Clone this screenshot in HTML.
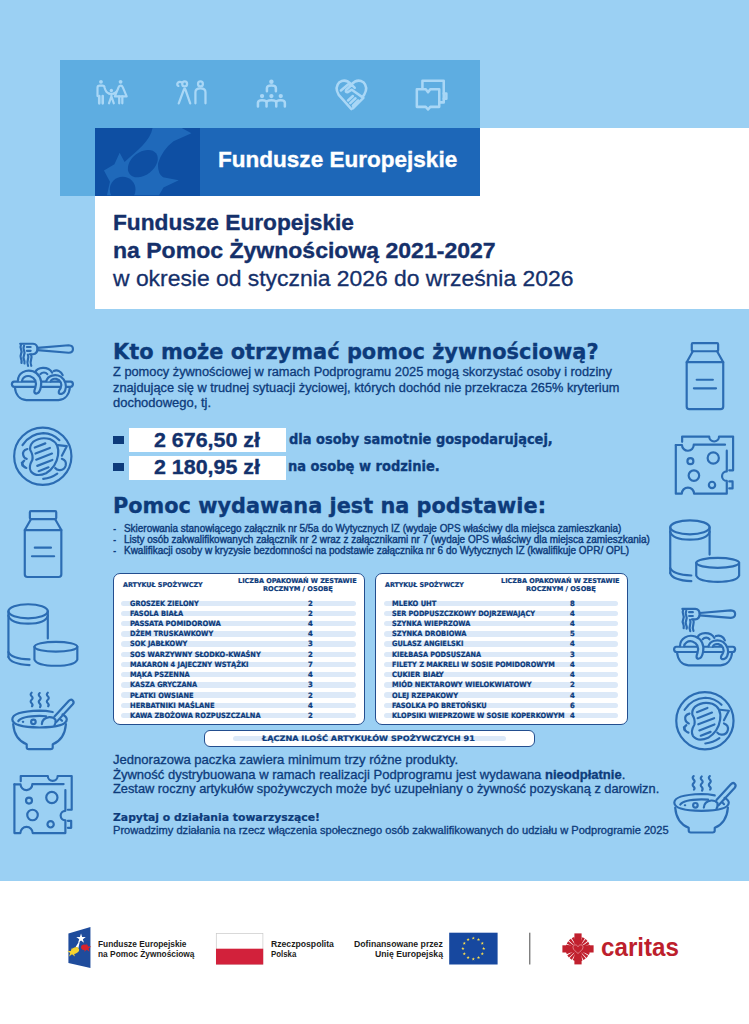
<!DOCTYPE html>
<html lang="pl">
<head>
<meta charset="utf-8">
<title>Fundusze Europejskie na Pomoc Żywnościową 2021-2027</title>
<style>
html,body{margin:0;padding:0;background:#fff;}
body{width:749px;height:1024px;overflow:hidden;position:relative;font-family:"Liberation Sans",sans-serif;}
#page{position:absolute;left:0;top:0;width:749px;height:1024px;overflow:hidden;background:#fff;}
.abs{position:absolute;}
#sky{left:0;top:0;width:749px;height:881px;background:#9bd0f3;}
#lightbox{left:59.5px;top:59.5px;width:420.5px;height:136.5px;background:#5eade1;}
#whitebox{left:95px;top:128px;width:654px;height:180.8px;background:#fff;}
#banner{left:95px;top:128px;width:385px;height:68.2px;background:#1d67b8;}
#bannerdark{left:0;top:0;width:104.5px;height:68px;background:#0e4fa3;overflow:hidden;}
.t{position:absolute;white-space:pre;line-height:1em;transform-origin:0 0;margin:0;}
.t b{font-weight:700;}
.hv{-webkit-text-stroke:0.35px currentColor;}
.md{-webkit-text-stroke:0.3px currentColor;}
.tb{-webkit-text-stroke:0.22px currentColor;}
.md2{-webkit-text-stroke:0.4px currentColor;}
.amt{background:#fff;left:128.6px;width:157.1px;height:24px;}
.bul{background:#0d3b7b;left:112.6px;width:11.4px;height:7.6px;}
.tbl{border:1.15px solid #234e8f;border-radius:7px;background:#fff;box-sizing:border-box;}
.row{position:absolute;height:5.4px;border-radius:3px;background:#dce9f8;}
svg{position:absolute;overflow:visible;}
</style>
</head>
<body>
<div id="page">
<div id="sky" class="abs"></div>
<div id="lightbox" class="abs"></div>
<div id="whitebox" class="abs"></div>
<div id="banner" class="abs"><div id="bannerdark" class="abs"></div></div>
<div class="abs bul" style="top:436.4px"></div>
<div class="abs bul" style="top:463.2px"></div>
<div class="abs amt" style="top:427.6px"></div>
<div class="abs amt" style="top:456px"></div>
<div class="abs tbl" style="left:113px;top:572.6px;width:252.2px;height:152.5px"></div>
<div class="abs tbl" style="left:375px;top:572.6px;width:252.8px;height:152.5px"></div>
<div class="abs tbl" style="left:204.2px;top:730px;width:331px;height:17.2px;border-radius:6px"></div>
<div class="row" style="left:233px;top:736.2px;width:273px;height:5px"></div>
<div id="rows"><div class="row" style="left:121px;top:600.50px;width:235.2px"></div>
<div class="row" style="left:383.6px;top:600.50px;width:234.6px"></div>
<div class="row" style="left:121px;top:610.72px;width:235.2px"></div>
<div class="row" style="left:383.6px;top:610.72px;width:234.6px"></div>
<div class="row" style="left:121px;top:620.93px;width:235.2px"></div>
<div class="row" style="left:383.6px;top:620.93px;width:234.6px"></div>
<div class="row" style="left:121px;top:631.14px;width:235.2px"></div>
<div class="row" style="left:383.6px;top:631.14px;width:234.6px"></div>
<div class="row" style="left:121px;top:641.36px;width:235.2px"></div>
<div class="row" style="left:383.6px;top:641.36px;width:234.6px"></div>
<div class="row" style="left:121px;top:651.58px;width:235.2px"></div>
<div class="row" style="left:383.6px;top:651.58px;width:234.6px"></div>
<div class="row" style="left:121px;top:661.79px;width:235.2px"></div>
<div class="row" style="left:383.6px;top:661.79px;width:234.6px"></div>
<div class="row" style="left:121px;top:672.00px;width:235.2px"></div>
<div class="row" style="left:383.6px;top:672.00px;width:234.6px"></div>
<div class="row" style="left:121px;top:682.22px;width:235.2px"></div>
<div class="row" style="left:383.6px;top:682.22px;width:234.6px"></div>
<div class="row" style="left:121px;top:692.43px;width:235.2px"></div>
<div class="row" style="left:383.6px;top:692.43px;width:234.6px"></div>
<div class="row" style="left:121px;top:702.65px;width:235.2px"></div>
<div class="row" style="left:383.6px;top:702.65px;width:234.6px"></div>
<div class="row" style="left:121px;top:712.87px;width:235.2px"></div>
<div class="row" style="left:383.6px;top:712.87px;width:234.6px"></div></div>
<svg class="abs" style="left:0;top:0" width="749" height="1024" viewBox="0 0 749 1024">
<g transform="translate(0.00,320.00) scale(0.17575)" fill="none" stroke="#2b6cb3" stroke-width="12.40" stroke-linecap="round" stroke-linejoin="round" ><g transform="translate(28.45,85.35) scale(0.6079)" stroke-width="20.4">
<path d="M142,82 H262 Q302,84 304,130 Q302,176 262,180 H232"/>
<path d="M205,112 H240 M205,148 H240"/>
<path d="M304,120 L596,96 Q636,98 636,130 Q636,164 596,166 L304,142"/>
<path d="M150,90 q-10,22 0,44 q10,22 0,44 q-10,22 0,44 q8,20 4,40"/>
<path d="M178,100 q-10,22 0,44 q10,22 0,44 q-10,22 0,44 q8,16 4,34"/>
<path d="M214,184 q10,24 0,48 q-10,24 2,58"/>
<path d="M244,184 q10,24 0,48 q-10,24 2,56"/>
<path d="M86,436 H614 Q636,438 636,460 Q634,484 612,485 H88 Q66,484 64,460 Q66,438 86,436 Z"/>
<path d="M92,487 C98,560 140,606 200,610 H500 C560,606 602,560 608,487"/>
<path d="M282,352 C302,298 402,290 442,352"/>
<path d="M332,366 C350,346 380,346 396,366"/>
<path d="M456,336 C492,322 526,342 540,376"/>
<path d="M120,432 C120,352 200,318 262,340 C322,362 348,420 336,482 C330,522 312,546 292,548 C268,546 272,522 284,492 C298,442 280,402 236,386 C192,376 160,402 158,432" fill="#9bd0f3"/>
<path d="M386,432 C400,380 470,360 522,390 C566,420 582,480 562,522 C552,546 526,556 510,550 C496,540 504,520 520,500 C540,460 520,422 480,411 C450,406 432,420 426,436" fill="#9bd0f3"/>
</g>
</g>
<g transform="translate(662.20,585.20) scale(0.17575)" fill="none" stroke="#2b6cb3" stroke-width="12.40" stroke-linecap="round" stroke-linejoin="round" ><g transform="translate(28.45,85.35) scale(0.6079)" stroke-width="20.4">
<path d="M142,82 H262 Q302,84 304,130 Q302,176 262,180 H232"/>
<path d="M205,112 H240 M205,148 H240"/>
<path d="M304,120 L596,96 Q636,98 636,130 Q636,164 596,166 L304,142"/>
<path d="M150,90 q-10,22 0,44 q10,22 0,44 q-10,22 0,44 q8,20 4,40"/>
<path d="M178,100 q-10,22 0,44 q10,22 0,44 q-10,22 0,44 q8,16 4,34"/>
<path d="M214,184 q10,24 0,48 q-10,24 2,58"/>
<path d="M244,184 q10,24 0,48 q-10,24 2,56"/>
<path d="M86,436 H614 Q636,438 636,460 Q634,484 612,485 H88 Q66,484 64,460 Q66,438 86,436 Z"/>
<path d="M92,487 C98,560 140,606 200,610 H500 C560,606 602,560 608,487"/>
<path d="M282,352 C302,298 402,290 442,352"/>
<path d="M332,366 C350,346 380,346 396,366"/>
<path d="M456,336 C492,322 526,342 540,376"/>
<path d="M120,432 C120,352 200,318 262,340 C322,362 348,420 336,482 C330,522 312,546 292,548 C268,546 272,522 284,492 C298,442 280,402 236,386 C192,376 160,402 158,432" fill="#9bd0f3"/>
<path d="M386,432 C400,380 470,360 522,390 C566,420 582,480 562,522 C552,546 526,556 510,550 C496,540 504,520 520,500 C540,460 520,422 480,411 C450,406 432,420 426,436" fill="#9bd0f3"/>
</g>
</g>
<g transform="translate(0.00,320.00) scale(0.17575)" fill="none" stroke="#2b6cb3" stroke-width="12.40" stroke-linecap="round" stroke-linejoin="round" >
<circle cx="243.5" cy="775" r="163"/>
<path d="M128,712 Q170,648 246,644 Q300,646 338,684"/>
<path d="M246,904 Q290,900 326,874"/>
<path d="M124,812 Q130,836 150,842"/>
<path d="M188,694 Q230,662 286,678 Q340,700 330,770 Q320,836 262,872 Q205,896 176,862 Q160,836 184,796 Q190,770 172,740 Q168,712 188,694 Z"/>
<path d="M198,726 L258,702 M202,760 L284,728 M206,795 L296,760 M212,830 L298,796 M220,860 L276,838"/>
<path d="M156,734 Q126,742 132,768 Q136,786 152,790"/>
<path d="M138,800 Q122,812 128,828"/>
<path d="M330,712 L380,718 L352,772"/>
<path d="M352,790 Q380,800 374,828 Q366,856 338,854 Q322,852 314,842"/>
</g>
<g transform="translate(662.10,584.60) scale(0.17575)" fill="none" stroke="#2b6cb3" stroke-width="12.40" stroke-linecap="round" stroke-linejoin="round" >
<circle cx="243.5" cy="775" r="163"/>
<path d="M128,712 Q170,648 246,644 Q300,646 338,684"/>
<path d="M246,904 Q290,900 326,874"/>
<path d="M124,812 Q130,836 150,842"/>
<path d="M188,694 Q230,662 286,678 Q340,700 330,770 Q320,836 262,872 Q205,896 176,862 Q160,836 184,796 Q190,770 172,740 Q168,712 188,694 Z"/>
<path d="M198,726 L258,702 M202,760 L284,728 M206,795 L296,760 M212,830 L298,796 M220,860 L276,838"/>
<path d="M156,734 Q126,742 132,768 Q136,786 152,790"/>
<path d="M138,800 Q122,812 128,828"/>
<path d="M330,712 L380,718 L352,772"/>
<path d="M352,790 Q380,800 374,828 Q366,856 338,854 Q322,852 314,842"/>
</g>
<g transform="translate(0.00,490.00) scale(0.17575)" fill="none" stroke="#2b6cb3" stroke-width="12.40" stroke-linecap="round" stroke-linejoin="round" >
<path d="M176,120 H314 Q320,120 320,126 V160 Q320,166 314,166 H176 Q170,166 170,160 V126 Q170,120 176,120 Z"/>
<path d="M176,166 L141,228 M314,166 L349,228"/>
<path d="M141,228 H349 V480 Q349,495 334,495 H156 Q141,495 141,480 Z"/>
<path d="M198,328 H290 M182,377 H308"/>
</g>
<g transform="translate(661.90,322.10) scale(0.17575)" fill="none" stroke="#2b6cb3" stroke-width="12.40" stroke-linecap="round" stroke-linejoin="round" >
<path d="M176,120 H314 Q320,120 320,126 V160 Q320,166 314,166 H176 Q170,166 170,160 V126 Q170,120 176,120 Z"/>
<path d="M176,166 L141,228 M314,166 L349,228"/>
<path d="M141,228 H349 V480 Q349,495 334,495 H156 Q141,495 141,480 Z"/>
<path d="M198,328 H290 M182,377 H308"/>
</g>
<g transform="translate(0.00,490.00) scale(0.17575)" fill="none" stroke="#2b6cb3" stroke-width="12.40" stroke-linecap="round" stroke-linejoin="round" >
<ellipse cx="160" cy="690" rx="112" ry="40"/>
<path d="M48,715 Q60,760 160,760 Q260,760 272,715"/>
<path d="M48,690 V950 M272,690 V845"/>
<path d="M48,950 Q60,990 168,996"/>
<path d="M48,922 Q62,958 168,964"/>
<ellipse cx="318" cy="892" rx="122" ry="28"/>
<path d="M196,892 V965 Q210,1000 318,1000 Q426,1000 440,965 V892"/>
</g>
<g transform="translate(661.80,406.10) scale(0.17575)" fill="none" stroke="#2b6cb3" stroke-width="12.40" stroke-linecap="round" stroke-linejoin="round" >
<ellipse cx="160" cy="690" rx="112" ry="40"/>
<path d="M48,715 Q60,760 160,760 Q260,760 272,715"/>
<path d="M48,690 V950 M272,690 V845"/>
<path d="M48,950 Q60,990 168,996"/>
<path d="M48,922 Q62,958 168,964"/>
<ellipse cx="318" cy="892" rx="122" ry="28"/>
<path d="M196,892 V965 Q210,1000 318,1000 Q426,1000 440,965 V892"/>
</g>
<g transform="translate(0.00,660.00) scale(0.17575)" fill="none" stroke="#2b6cb3" stroke-width="12.40" stroke-linecap="round" stroke-linejoin="round" >
<path d="M180,186 q-11,10 0,20 q11,10 0,20 q-11,10 0,20 q9,9 2,17"/>
<path d="M226,188 q-11,10 0,20 q11,10 0,20 q-11,10 0,20 q9,10 2,20"/>
<path d="M272,186 q-11,10 0,20 q11,10 0,20 q-11,10 0,20 q9,9 2,17"/>
<path d="M300,296 Q260,288 225,288 Q70,292 70,338 Q72,382 225,384 Q378,382 380,338 Q380,322 356,310"/>
<path d="M104,348 Q120,320 225,318 Q245,318 262,320"/>
<path d="M75,365 Q82,452 152,480 V496 Q152,507 164,507 H288 Q300,507 300,496 V480 Q368,452 375,365"/>
<path d="M310,322 L392,232 Q404,220 414,230 Q424,240 414,252 L322,352"/>
<path d="M238,365 Q240,330 280,325 Q305,324 316,340 Q318,360 310,372"/>
<circle cx="190" cy="352" r="13"/>
<path d="M130,352 h2 M345,338 l8,8"/>
</g>
<g transform="translate(662.00,743.40) scale(0.17575)" fill="none" stroke="#2b6cb3" stroke-width="12.40" stroke-linecap="round" stroke-linejoin="round" >
<path d="M180,186 q-11,10 0,20 q11,10 0,20 q-11,10 0,20 q9,9 2,17"/>
<path d="M226,188 q-11,10 0,20 q11,10 0,20 q-11,10 0,20 q9,10 2,20"/>
<path d="M272,186 q-11,10 0,20 q11,10 0,20 q-11,10 0,20 q9,9 2,17"/>
<path d="M300,296 Q260,288 225,288 Q70,292 70,338 Q72,382 225,384 Q378,382 380,338 Q380,322 356,310"/>
<path d="M104,348 Q120,320 225,318 Q245,318 262,320"/>
<path d="M75,365 Q82,452 152,480 V496 Q152,507 164,507 H288 Q300,507 300,496 V480 Q368,452 375,365"/>
<path d="M310,322 L392,232 Q404,220 414,230 Q424,240 414,252 L322,352"/>
<path d="M238,365 Q240,330 280,325 Q305,324 316,340 Q318,360 310,372"/>
<circle cx="190" cy="352" r="13"/>
<path d="M130,352 h2 M345,338 l8,8"/>
</g>
<g transform="translate(0.00,660.00) scale(0.17575)" fill="none" stroke="#2b6cb3" stroke-width="12.40" stroke-linecap="round" stroke-linejoin="round" >
<path d="M82,708 H117 A33,33 0 0 0 184,706 H362"/>
<path d="M82,708 V985 H116 A35,35 0 0 1 186,985 H372 V912 A27,27 0 0 1 372,858 V740"/>
<path d="M118,690 V660 H272 A28,28 0 0 0 328,660 H408 V852 H386"/>
<path d="M386,915 H405 V955 H386"/>
<circle cx="295" cy="782" r="32"/>
<circle cx="165" cy="800" r="17"/>
<circle cx="185" cy="882" r="30"/>
<circle cx="288" cy="935" r="18"/>
</g>
<g transform="translate(661.40,320.60) scale(0.17575)" fill="none" stroke="#2b6cb3" stroke-width="12.40" stroke-linecap="round" stroke-linejoin="round" >
<path d="M82,708 H117 A33,33 0 0 0 184,706 H362"/>
<path d="M82,708 V985 H116 A35,35 0 0 1 186,985 H372 V912 A27,27 0 0 1 372,858 V740"/>
<path d="M118,690 V660 H272 A28,28 0 0 0 328,660 H408 V852 H386"/>
<path d="M386,915 H405 V955 H386"/>
<circle cx="295" cy="782" r="32"/>
<circle cx="165" cy="800" r="17"/>
<circle cx="185" cy="882" r="30"/>
<circle cx="288" cy="935" r="18"/>
</g>
<g transform="translate(85.00,70.00) scale(0.17361)" fill="none" stroke="#a9d7f6" stroke-width="12.50" stroke-linecap="round" stroke-linejoin="round" >
<circle cx="92" cy="68" r="11" fill="#a9d7f6" stroke="none"/>
<path d="M72,150 V102 Q72,90 84,90 H100 Q112,90 113,102 Q120,130 140,136"/>
<path d="M82,192 V150 M102,192 V150" stroke-width="15"/>
<circle cx="152" cy="118" r="9.5" fill="#a9d7f6" stroke="none"/>
<path d="M140,137 H164 M152,137 V152 L138,192 M152,152 L166,192"/>
<circle cx="205" cy="68" r="11" fill="#a9d7f6" stroke="none"/>
<path d="M164,136 Q186,130 193,100 Q196,90 205,90 Q214,90 218,100 L240,152 H172 L193,100"/>
<path d="M197,192 V152 M215,192 V152" stroke-width="13"/>
</g>
<g transform="translate(85.00,70.00) scale(0.17361)" fill="none" stroke="#a9d7f6" stroke-width="13.00" stroke-linecap="round" stroke-linejoin="round" >
<circle cx="574" cy="80" r="14"/>
<path d="M560,72 Q540,62 532,78 Q530,90 538,92"/>
<path d="M540,192 L570,112 Q574,104 578,112 L606,192"/>
<circle cx="665" cy="80" r="14"/>
<path d="M636,192 V128 Q636,106 665,106 Q694,106 694,128 V192"/>
</g>
<g transform="translate(160.00,65.00) scale(0.18692)" fill="none" stroke="#a9d7f6" stroke-width="13.50" stroke-linecap="round" stroke-linejoin="round" >
<circle cx="596" cy="90" r="12" fill="#a9d7f6" stroke="none"/>
<path d="M572,140 V124 Q572,110 596,110 Q620,110 620,124 V140"/>
<circle cx="546" cy="166" r="11.5" fill="#a9d7f6" stroke="none"/>
<circle cx="596" cy="166" r="11.5" fill="#a9d7f6" stroke="none"/>
<circle cx="646" cy="166" r="11.5" fill="#a9d7f6" stroke="none"/>
<path d="M524,222 V202 Q524,188 546,188 Q570,188 570,202 V222 M570,202 Q570,188 596,188 Q622,188 622,202 V222 M622,202 Q622,188 646,188 Q668,188 668,202 V222"/>
</g>
<g transform="translate(320.00,65.00) scale(0.18692)" fill="none" stroke="#a9d7f6" stroke-width="13.50" stroke-linecap="round" stroke-linejoin="round" >
<path d="M168,236 L100,160 Q76,120 104,92 Q136,70 168,104 Q200,70 232,92 Q260,120 236,160 L228,170"/>
<path d="M112,136 L150,104 Q160,98 170,106 L186,122 M170,106 L140,134 Q134,146 148,146 L170,132 L232,176 L176,232"/>
<path d="M150,190 L176,166 M162,204 L190,178 M176,218 L204,190"/>
</g>
<g transform="translate(320.00,65.00) scale(0.18692)" fill="none" stroke="#a9d7f6" stroke-width="13.50" stroke-linecap="round" stroke-linejoin="round" >
<path d="M548,124 V84 H662 V200 H642"/>
<path d="M662,152 H676 V180 H662"/>
<path d="M518,130 H566 L578,146 L590,130 H638 V224 H590 L578,238 L566,224 H518 Z"/>
</g>
<defs><clipPath id="bclip"><rect x="95" y="128" width="104.5" height="68"/></clipPath></defs>
<g clip-path="url(#bclip)"><g transform="translate(92,125) scale(0.14953)">
<path d="M80,305 L150,262 L185,185 L218,248 C300,170 390,110 405,20 L600,20 L665,55 L545,108 Q470,165 442,255 Q436,320 475,350 L580,370 L478,418 L448,470 L100,470 L120,380 Z" fill="#1f69ba"/>
<ellipse cx="340" cy="258" rx="112" ry="76" transform="rotate(-38 340 258)" fill="#0e4fa3"/>
<circle cx="205" cy="432" r="86" fill="#0e4fa3"/>
</g></g>
<g transform="translate(60,920) scale(0.20028)">
<path d="M42,68 L152,35 L152,240 L42,215 Z" fill="#1f4c9c"/>
<polygon points="105.00,68.00 110.61,85.27 128.78,85.27 114.08,95.95 119.69,113.23 105.00,102.55 90.31,113.23 95.92,95.95 81.22,85.27 99.39,85.27" fill="#ffffff"/>
<path d="M100,100 L78,135 L92,140 Z" fill="#ffffff"/>
<polygon points="60.00,137.00 65.61,154.27 83.78,154.27 69.08,164.95 74.69,182.23 60.00,171.55 45.31,182.23 50.92,164.95 36.22,154.27 54.39,154.27" fill="#f7d32f"/>
<ellipse cx="76" cy="152" rx="20" ry="15" transform="rotate(-30 76 152)" fill="#f7d32f"/>
<polygon points="134.00,117.00 139.16,132.89 155.87,132.89 142.36,142.72 147.52,158.61 134.00,148.79 120.48,158.61 125.64,142.72 112.13,132.89 128.84,132.89" fill="#d8232a"/>
<ellipse cx="122" cy="136" rx="17" ry="14" fill="#d8232a"/>
</g>
<rect x="216.3" y="933.4" width="46.6" height="30.8" fill="#ffffff" stroke="#c9c9c9" stroke-width="0.7"/>
<rect x="216" y="948.7" width="47.2" height="15.8" fill="#d2213b"/>
<rect x="449.2" y="932.7" width="48.4" height="31.8" fill="#17489f"/>
<polygon points="473.30,936.45 473.69,937.66 474.96,937.66 473.94,938.41 474.33,939.62 473.30,938.87 472.27,939.62 472.66,938.41 471.64,937.66 472.91,937.66" fill="#ffe14d"/>
<polygon points="478.50,937.84 478.89,939.05 480.16,939.05 479.14,939.80 479.53,941.01 478.50,940.26 477.47,941.01 477.86,939.80 476.84,939.05 478.11,939.05" fill="#ffe14d"/>
<polygon points="482.31,941.65 482.70,942.86 483.97,942.86 482.94,943.61 483.34,944.82 482.31,944.07 481.28,944.82 481.67,943.61 480.64,942.86 481.91,942.86" fill="#ffe14d"/>
<polygon points="483.70,946.85 484.09,948.06 485.36,948.06 484.34,948.81 484.73,950.02 483.70,949.27 482.67,950.02 483.06,948.81 482.04,948.06 483.31,948.06" fill="#ffe14d"/>
<polygon points="482.31,952.05 482.70,953.26 483.97,953.26 482.94,954.01 483.34,955.22 482.31,954.47 481.28,955.22 481.67,954.01 480.64,953.26 481.91,953.26" fill="#ffe14d"/>
<polygon points="478.50,955.86 478.89,957.07 480.16,957.07 479.14,957.81 479.53,959.02 478.50,958.28 477.47,959.02 477.86,957.81 476.84,957.07 478.11,957.07" fill="#ffe14d"/>
<polygon points="473.30,957.25 473.69,958.46 474.96,958.46 473.94,959.21 474.33,960.42 473.30,959.67 472.27,960.42 472.66,959.21 471.64,958.46 472.91,958.46" fill="#ffe14d"/>
<polygon points="468.10,955.86 468.49,957.07 469.76,957.07 468.74,957.81 469.13,959.02 468.10,958.28 467.07,959.02 467.46,957.81 466.44,957.07 467.71,957.07" fill="#ffe14d"/>
<polygon points="464.29,952.05 464.69,953.26 465.96,953.26 464.93,954.01 465.32,955.22 464.29,954.47 463.26,955.22 463.66,954.01 462.63,953.26 463.90,953.26" fill="#ffe14d"/>
<polygon points="462.90,946.85 463.29,948.06 464.56,948.06 463.54,948.81 463.93,950.02 462.90,949.27 461.87,950.02 462.26,948.81 461.24,948.06 462.51,948.06" fill="#ffe14d"/>
<polygon points="464.29,941.65 464.69,942.86 465.96,942.86 464.93,943.61 465.32,944.82 464.29,944.07 463.26,944.82 463.66,943.61 462.63,942.86 463.90,942.86" fill="#ffe14d"/>
<polygon points="468.10,937.84 468.49,939.05 469.76,939.05 468.74,939.80 469.13,941.01 468.10,940.26 467.07,941.01 467.46,939.80 466.44,939.05 467.71,939.05" fill="#ffe14d"/>
<rect x="529.3" y="932.7" width="1" height="31.8" fill="#4a4a4a"/>
<circle cx="578.0" cy="948.9" r="8.6" fill="none" stroke="#c1202e" stroke-width="7.6" stroke-dasharray="1.9 0.65"/>
<rect x="574.40" y="933.40" width="7.2" height="31" fill="#c1202e"/>
<rect x="562.40" y="945.30" width="31.2" height="7.2" fill="#c1202e"/>
<path d="M578.00,946.70 c-1.2,-2.6 -5,-2.4 -5,0.6 c0,2.6 3.2,4.4 5,6.2 c1.8,-1.8 5,-3.6 5,-6.2 c0,-3 -3.8,-3.2 -5,-0.6 z" fill="#c1202e" stroke="#e9a9ae" stroke-width="0.7"/>
</svg>
<div class="t hv" style="left:218.20px;top:149.21px;font-size:22.3px;font-weight:700;color:#ffffff;transform:scaleX(1.0107);">Fundusze Europejskie</div>
<div class="t hv" style="left:112.80px;top:212.07px;font-size:22.0px;font-weight:700;color:#15306a;transform:scaleX(1.0321);">Fundusze Europejskie</div>
<div class="t hv" style="left:112.80px;top:240.17px;font-size:22.0px;font-weight:700;color:#15306a;transform:scaleX(1.0465);">na Pomoc Żywnościową 2021-2027</div>
<div class="t md" style="left:112.60px;top:267.74px;font-size:21.8px;font-weight:400;color:#15306a;transform:scaleX(1.0497);">w okresie od stycznia 2026 do września 2026</div>
<div class="t hv" style="left:113.00px;top:340.85px;font-size:21.8px;font-weight:700;color:#0d3b7b;transform:scaleX(0.9602);font-family:'DejaVu Sans', 'Liberation Sans', sans-serif;">Kto może otrzymać pomoc żywnościową?</div>
<div class="t md" style="left:112.60px;top:366.14px;font-size:12.0px;font-weight:400;color:#0d3b7b;transform:scaleX(1.0669);">Z pomocy żywnościowej w ramach Podprogramu 2025 mogą skorzystać osoby i rodziny</div>
<div class="t md" style="left:112.60px;top:381.84px;font-size:12.0px;font-weight:400;color:#0d3b7b;transform:scaleX(1.0634);">znajdujące się w trudnej sytuacji życiowej, których dochód nie przekracza 265% kryterium</div>
<div class="t md" style="left:112.60px;top:397.14px;font-size:12.0px;font-weight:400;color:#0d3b7b;transform:scaleX(1.0801);">dochodowego, tj.</div>
<div class="t hv" style="left:153.80px;top:429.68px;font-size:20.8px;font-weight:700;color:#13316c;transform:scaleX(1.0299);">2 676,50 zł</div>
<div class="t hv" style="left:153.80px;top:457.18px;font-size:20.8px;font-weight:700;color:#13316c;transform:scaleX(1.0299);">2 180,95 zł</div>
<div class="t hv" style="left:288.60px;top:431.75px;font-size:14px;font-weight:700;color:#0d3b7b;transform:scaleX(0.9267);font-family:'DejaVu Sans', 'Liberation Sans', sans-serif;">dla osoby samotnie gospodarującej,</div>
<div class="t hv" style="left:288.40px;top:459.25px;font-size:14px;font-weight:700;color:#0d3b7b;transform:scaleX(0.9305);font-family:'DejaVu Sans', 'Liberation Sans', sans-serif;">na osobę w rodzinie.</div>
<div class="t hv" style="left:112.60px;top:495.15px;font-size:21.8px;font-weight:700;color:#0d3b7b;transform:scaleX(0.9560);font-family:'DejaVu Sans', 'Liberation Sans', sans-serif;">Pomoc wydawana jest na podstawie:</div>
<div class="t " style="left:113.20px;top:523.73px;font-size:10.0px;font-weight:700;color:#0d3b7b;transform:scaleX(0.9869);">-</div>
<div class="t " style="left:113.20px;top:534.93px;font-size:10.0px;font-weight:700;color:#0d3b7b;transform:scaleX(0.9869);">-</div>
<div class="t " style="left:113.20px;top:546.23px;font-size:10.0px;font-weight:700;color:#0d3b7b;transform:scaleX(0.9869);">-</div>
<div class="t md2" style="left:124.00px;top:523.93px;font-size:10.0px;font-weight:400;color:#0d3b7b;transform:scaleX(0.9931);">Skierowania stanowiącego załącznik nr 5/5a do Wytycznych IZ (wydaje OPS właściwy dla miejsca zamieszkania)</div>
<div class="t md2" style="left:124.00px;top:535.13px;font-size:10.0px;font-weight:400;color:#0d3b7b;transform:scaleX(0.9948);">Listy osób zakwalifikowanych załącznik nr 2 wraz z załącznikami nr 7 (wydaje OPS właściwy dla miejsca zamieszkania)</div>
<div class="t md2" style="left:124.00px;top:546.43px;font-size:10.0px;font-weight:400;color:#0d3b7b;transform:scaleX(0.9969);">Kwalifikacji osoby w kryzysie bezdomności na podstawie załącznika nr 6 do Wytycznych IZ (kwalifikuje OPR/ OPL)</div>
<div class="t tb" style="left:129.80px;top:599.62px;font-size:7.3px;font-weight:700;color:#0d3b7b;transform:scaleX(0.9984);font-family:'DejaVu Sans Condensed', 'DejaVu Sans', 'Liberation Sans', sans-serif;">GROSZEK ZIELONY</div>
<div class="t tb" style="left:308.00px;top:599.62px;font-size:7.3px;font-weight:700;color:#0d3b7b;transform:scaleX(1.0485);font-family:'DejaVu Sans Condensed', 'DejaVu Sans', 'Liberation Sans', sans-serif;">2</div>
<div class="t tb" style="left:129.80px;top:609.84px;font-size:7.3px;font-weight:700;color:#0d3b7b;transform:scaleX(1.0151);font-family:'DejaVu Sans Condensed', 'DejaVu Sans', 'Liberation Sans', sans-serif;">FASOLA BIAŁA</div>
<div class="t tb" style="left:308.00px;top:609.84px;font-size:7.3px;font-weight:700;color:#0d3b7b;transform:scaleX(1.0485);font-family:'DejaVu Sans Condensed', 'DejaVu Sans', 'Liberation Sans', sans-serif;">2</div>
<div class="t tb" style="left:129.80px;top:620.05px;font-size:7.3px;font-weight:700;color:#0d3b7b;transform:scaleX(1.0416);font-family:'DejaVu Sans Condensed', 'DejaVu Sans', 'Liberation Sans', sans-serif;">PASSATA POMIDOROWA</div>
<div class="t tb" style="left:308.00px;top:620.05px;font-size:7.3px;font-weight:700;color:#0d3b7b;transform:scaleX(1.0485);font-family:'DejaVu Sans Condensed', 'DejaVu Sans', 'Liberation Sans', sans-serif;">4</div>
<div class="t tb" style="left:129.80px;top:630.27px;font-size:7.3px;font-weight:700;color:#0d3b7b;transform:scaleX(1.0081);font-family:'DejaVu Sans Condensed', 'DejaVu Sans', 'Liberation Sans', sans-serif;">DŻEM TRUSKAWKOWY</div>
<div class="t tb" style="left:308.00px;top:630.27px;font-size:7.3px;font-weight:700;color:#0d3b7b;transform:scaleX(1.0485);font-family:'DejaVu Sans Condensed', 'DejaVu Sans', 'Liberation Sans', sans-serif;">4</div>
<div class="t tb" style="left:129.80px;top:640.48px;font-size:7.3px;font-weight:700;color:#0d3b7b;transform:scaleX(1.0112);font-family:'DejaVu Sans Condensed', 'DejaVu Sans', 'Liberation Sans', sans-serif;">SOK JABŁKOWY</div>
<div class="t tb" style="left:308.00px;top:640.48px;font-size:7.3px;font-weight:700;color:#0d3b7b;transform:scaleX(1.0485);font-family:'DejaVu Sans Condensed', 'DejaVu Sans', 'Liberation Sans', sans-serif;">3</div>
<div class="t tb" style="left:129.80px;top:650.70px;font-size:7.3px;font-weight:700;color:#0d3b7b;transform:scaleX(1.0168);font-family:'DejaVu Sans Condensed', 'DejaVu Sans', 'Liberation Sans', sans-serif;">SOS WARZYWNY SŁODKO-KWAŚNY</div>
<div class="t tb" style="left:308.00px;top:650.70px;font-size:7.3px;font-weight:700;color:#0d3b7b;transform:scaleX(1.0485);font-family:'DejaVu Sans Condensed', 'DejaVu Sans', 'Liberation Sans', sans-serif;">2</div>
<div class="t tb" style="left:129.80px;top:660.91px;font-size:7.3px;font-weight:700;color:#0d3b7b;transform:scaleX(1.0099);font-family:'DejaVu Sans Condensed', 'DejaVu Sans', 'Liberation Sans', sans-serif;">MAKARON 4 JAJECZNY WSTĄŻKI</div>
<div class="t tb" style="left:308.00px;top:660.91px;font-size:7.3px;font-weight:700;color:#0d3b7b;transform:scaleX(1.0485);font-family:'DejaVu Sans Condensed', 'DejaVu Sans', 'Liberation Sans', sans-serif;">7</div>
<div class="t tb" style="left:129.80px;top:671.13px;font-size:7.3px;font-weight:700;color:#0d3b7b;transform:scaleX(1.0115);font-family:'DejaVu Sans Condensed', 'DejaVu Sans', 'Liberation Sans', sans-serif;">MĄKA PSZENNA</div>
<div class="t tb" style="left:308.00px;top:671.13px;font-size:7.3px;font-weight:700;color:#0d3b7b;transform:scaleX(1.0485);font-family:'DejaVu Sans Condensed', 'DejaVu Sans', 'Liberation Sans', sans-serif;">4</div>
<div class="t tb" style="left:129.80px;top:681.34px;font-size:7.3px;font-weight:700;color:#0d3b7b;transform:scaleX(1.0060);font-family:'DejaVu Sans Condensed', 'DejaVu Sans', 'Liberation Sans', sans-serif;">KASZA GRYCZANA</div>
<div class="t tb" style="left:308.00px;top:681.34px;font-size:7.3px;font-weight:700;color:#0d3b7b;transform:scaleX(1.0485);font-family:'DejaVu Sans Condensed', 'DejaVu Sans', 'Liberation Sans', sans-serif;">3</div>
<div class="t tb" style="left:129.80px;top:691.56px;font-size:7.3px;font-weight:700;color:#0d3b7b;transform:scaleX(1.0113);font-family:'DejaVu Sans Condensed', 'DejaVu Sans', 'Liberation Sans', sans-serif;">PŁATKI OWSIANE</div>
<div class="t tb" style="left:308.00px;top:691.56px;font-size:7.3px;font-weight:700;color:#0d3b7b;transform:scaleX(1.0485);font-family:'DejaVu Sans Condensed', 'DejaVu Sans', 'Liberation Sans', sans-serif;">2</div>
<div class="t tb" style="left:129.80px;top:701.77px;font-size:7.3px;font-weight:700;color:#0d3b7b;transform:scaleX(1.0270);font-family:'DejaVu Sans Condensed', 'DejaVu Sans', 'Liberation Sans', sans-serif;">HERBATNIKI MAŚLANE</div>
<div class="t tb" style="left:308.00px;top:701.77px;font-size:7.3px;font-weight:700;color:#0d3b7b;transform:scaleX(1.0485);font-family:'DejaVu Sans Condensed', 'DejaVu Sans', 'Liberation Sans', sans-serif;">4</div>
<div class="t tb" style="left:129.80px;top:711.99px;font-size:7.3px;font-weight:700;color:#0d3b7b;transform:scaleX(1.0161);font-family:'DejaVu Sans Condensed', 'DejaVu Sans', 'Liberation Sans', sans-serif;">KAWA ZBOŻOWA ROZPUSZCZALNA</div>
<div class="t tb" style="left:308.00px;top:711.99px;font-size:7.3px;font-weight:700;color:#0d3b7b;transform:scaleX(1.0485);font-family:'DejaVu Sans Condensed', 'DejaVu Sans', 'Liberation Sans', sans-serif;">2</div>
<div class="t tb" style="left:392.20px;top:599.62px;font-size:7.3px;font-weight:700;color:#0d3b7b;transform:scaleX(1.0292);font-family:'DejaVu Sans Condensed', 'DejaVu Sans', 'Liberation Sans', sans-serif;">MLEKO UHT</div>
<div class="t tb" style="left:570.40px;top:599.62px;font-size:7.3px;font-weight:700;color:#0d3b7b;transform:scaleX(1.0485);font-family:'DejaVu Sans Condensed', 'DejaVu Sans', 'Liberation Sans', sans-serif;">8</div>
<div class="t tb" style="left:392.20px;top:609.84px;font-size:7.3px;font-weight:700;color:#0d3b7b;transform:scaleX(0.9993);font-family:'DejaVu Sans Condensed', 'DejaVu Sans', 'Liberation Sans', sans-serif;">SER PODPUSZCZKOWY DOJRZEWAJĄCY</div>
<div class="t tb" style="left:570.40px;top:609.84px;font-size:7.3px;font-weight:700;color:#0d3b7b;transform:scaleX(1.0485);font-family:'DejaVu Sans Condensed', 'DejaVu Sans', 'Liberation Sans', sans-serif;">4</div>
<div class="t tb" style="left:392.20px;top:620.05px;font-size:7.3px;font-weight:700;color:#0d3b7b;transform:scaleX(0.9967);font-family:'DejaVu Sans Condensed', 'DejaVu Sans', 'Liberation Sans', sans-serif;">SZYNKA WIEPRZOWA</div>
<div class="t tb" style="left:570.40px;top:620.05px;font-size:7.3px;font-weight:700;color:#0d3b7b;transform:scaleX(1.0485);font-family:'DejaVu Sans Condensed', 'DejaVu Sans', 'Liberation Sans', sans-serif;">4</div>
<div class="t tb" style="left:392.20px;top:630.27px;font-size:7.3px;font-weight:700;color:#0d3b7b;transform:scaleX(1.0164);font-family:'DejaVu Sans Condensed', 'DejaVu Sans', 'Liberation Sans', sans-serif;">SZYNKA DROBIOWA</div>
<div class="t tb" style="left:570.40px;top:630.27px;font-size:7.3px;font-weight:700;color:#0d3b7b;transform:scaleX(1.0485);font-family:'DejaVu Sans Condensed', 'DejaVu Sans', 'Liberation Sans', sans-serif;">5</div>
<div class="t tb" style="left:392.20px;top:640.48px;font-size:7.3px;font-weight:700;color:#0d3b7b;transform:scaleX(1.0043);font-family:'DejaVu Sans Condensed', 'DejaVu Sans', 'Liberation Sans', sans-serif;">GULASZ ANGIELSKI</div>
<div class="t tb" style="left:570.40px;top:640.48px;font-size:7.3px;font-weight:700;color:#0d3b7b;transform:scaleX(1.0485);font-family:'DejaVu Sans Condensed', 'DejaVu Sans', 'Liberation Sans', sans-serif;">4</div>
<div class="t tb" style="left:392.20px;top:650.70px;font-size:7.3px;font-weight:700;color:#0d3b7b;transform:scaleX(0.9961);font-family:'DejaVu Sans Condensed', 'DejaVu Sans', 'Liberation Sans', sans-serif;">KIEŁBASA PODSUSZANA</div>
<div class="t tb" style="left:570.40px;top:650.70px;font-size:7.3px;font-weight:700;color:#0d3b7b;transform:scaleX(1.0485);font-family:'DejaVu Sans Condensed', 'DejaVu Sans', 'Liberation Sans', sans-serif;">3</div>
<div class="t tb" style="left:392.20px;top:660.91px;font-size:7.3px;font-weight:700;color:#0d3b7b;transform:scaleX(1.0009);font-family:'DejaVu Sans Condensed', 'DejaVu Sans', 'Liberation Sans', sans-serif;">FILETY Z MAKRELI W SOSIE POMIDOROWYM</div>
<div class="t tb" style="left:570.40px;top:660.91px;font-size:7.3px;font-weight:700;color:#0d3b7b;transform:scaleX(1.0485);font-family:'DejaVu Sans Condensed', 'DejaVu Sans', 'Liberation Sans', sans-serif;">4</div>
<div class="t tb" style="left:392.20px;top:671.13px;font-size:7.3px;font-weight:700;color:#0d3b7b;transform:scaleX(1.0389);font-family:'DejaVu Sans Condensed', 'DejaVu Sans', 'Liberation Sans', sans-serif;">CUKIER BIAŁY</div>
<div class="t tb" style="left:570.40px;top:671.13px;font-size:7.3px;font-weight:700;color:#0d3b7b;transform:scaleX(1.0485);font-family:'DejaVu Sans Condensed', 'DejaVu Sans', 'Liberation Sans', sans-serif;">4</div>
<div class="t tb" style="left:392.20px;top:681.34px;font-size:7.3px;font-weight:700;color:#0d3b7b;transform:scaleX(1.0244);font-family:'DejaVu Sans Condensed', 'DejaVu Sans', 'Liberation Sans', sans-serif;">MIÓD NEKTAROWY WIELOKWIATOWY</div>
<div class="t tb" style="left:570.40px;top:681.34px;font-size:7.3px;font-weight:700;color:#0d3b7b;transform:scaleX(1.0485);font-family:'DejaVu Sans Condensed', 'DejaVu Sans', 'Liberation Sans', sans-serif;">2</div>
<div class="t tb" style="left:392.20px;top:691.56px;font-size:7.3px;font-weight:700;color:#0d3b7b;transform:scaleX(1.0194);font-family:'DejaVu Sans Condensed', 'DejaVu Sans', 'Liberation Sans', sans-serif;">OLEJ RZEPAKOWY</div>
<div class="t tb" style="left:570.40px;top:691.56px;font-size:7.3px;font-weight:700;color:#0d3b7b;transform:scaleX(1.0485);font-family:'DejaVu Sans Condensed', 'DejaVu Sans', 'Liberation Sans', sans-serif;">4</div>
<div class="t tb" style="left:392.20px;top:701.77px;font-size:7.3px;font-weight:700;color:#0d3b7b;transform:scaleX(1.0121);font-family:'DejaVu Sans Condensed', 'DejaVu Sans', 'Liberation Sans', sans-serif;">FASOLKA PO BRETOŃSKU</div>
<div class="t tb" style="left:570.40px;top:701.77px;font-size:7.3px;font-weight:700;color:#0d3b7b;transform:scaleX(1.0485);font-family:'DejaVu Sans Condensed', 'DejaVu Sans', 'Liberation Sans', sans-serif;">6</div>
<div class="t tb" style="left:392.20px;top:711.99px;font-size:7.3px;font-weight:700;color:#0d3b7b;transform:scaleX(1.0029);font-family:'DejaVu Sans Condensed', 'DejaVu Sans', 'Liberation Sans', sans-serif;">KLOPSIKI WIEPRZOWE W SOSIE KOPERKOWYM</div>
<div class="t tb" style="left:570.40px;top:711.99px;font-size:7.3px;font-weight:700;color:#0d3b7b;transform:scaleX(1.0485);font-family:'DejaVu Sans Condensed', 'DejaVu Sans', 'Liberation Sans', sans-serif;">4</div>
<div class="t tb" style="left:122.80px;top:582.11px;font-size:6.6px;font-weight:700;color:#0d3b7b;transform:scaleX(0.9666);font-family:'DejaVu Sans', 'Liberation Sans', sans-serif;">ARTYKUŁ SPOŻYWCZY</div>
<div class="t tb" style="left:238.40px;top:578.01px;font-size:6.6px;font-weight:700;color:#0d3b7b;transform:scaleX(0.9836);font-family:'DejaVu Sans', 'Liberation Sans', sans-serif;">LICZBA OPAKOWAŃ W ZESTAWIE</div>
<div class="t tb" style="left:263.40px;top:585.51px;font-size:6.6px;font-weight:700;color:#0d3b7b;transform:scaleX(1.0035);font-family:'DejaVu Sans', 'Liberation Sans', sans-serif;">ROCZNYM / OSOBĘ</div>
<div class="t tb" style="left:385.40px;top:582.11px;font-size:6.6px;font-weight:700;color:#0d3b7b;transform:scaleX(0.9569);font-family:'DejaVu Sans', 'Liberation Sans', sans-serif;">ARTYKUŁ SPOŻYWCZY</div>
<div class="t tb" style="left:500.80px;top:578.01px;font-size:6.6px;font-weight:700;color:#0d3b7b;transform:scaleX(0.9828);font-family:'DejaVu Sans', 'Liberation Sans', sans-serif;">LICZBA OPAKOWAŃ W ZESTAWIE</div>
<div class="t tb" style="left:525.80px;top:585.51px;font-size:6.6px;font-weight:700;color:#0d3b7b;transform:scaleX(1.0021);font-family:'DejaVu Sans', 'Liberation Sans', sans-serif;">ROCZNYM / OSOBĘ</div>
<div class="t tb" style="left:262.00px;top:734.65px;font-size:7.5px;font-weight:700;color:#0d3b7b;transform:scaleX(1.0848);font-family:'DejaVu Sans', 'Liberation Sans', sans-serif;">ŁĄCZNA ILOŚĆ ARTYKUŁÓW SPOŻYWCZYCH 91</div>
<div class="t md" style="left:112.60px;top:753.67px;font-size:12.2px;font-weight:400;color:#0d3b7b;transform:scaleX(1.0714);">Jednorazowa paczka zawiera minimum trzy różne produkty.</div>
<div class="t md" style="left:112.60px;top:768.67px;font-size:12.2px;font-weight:400;color:#0d3b7b;transform:scaleX(1.0682);">Żywność dystrybuowana w ramach realizacji Podprogramu jest wydawana <b>nieodpłatnie</b>.</div>
<div class="t md" style="left:112.60px;top:783.07px;font-size:12.2px;font-weight:400;color:#0d3b7b;transform:scaleX(1.0513);">Zestaw roczny artykułów spożywczych może być uzupełniany o żywność pozyskaną z darowizn.</div>
<div class="t tb" style="left:112.80px;top:812.87px;font-size:10.2px;font-weight:700;color:#0d3b7b;transform:scaleX(1.0607);font-family:'DejaVu Sans', 'Liberation Sans', sans-serif;">Zapytaj o działania towarzyszące!</div>
<div class="t md" style="left:112.80px;top:825.53px;font-size:10.0px;font-weight:400;color:#0d3b7b;transform:scaleX(1.1081);">Prowadzimy działania na rzecz włączenia społecznego osób zakwalifikowanych do udziału w Podprogramie 2025</div>
<div class="t " style="left:98.30px;top:939.04px;font-size:9.4px;font-weight:700;color:#1d1d1b;transform:scaleX(0.8894);">Fundusze Europejskie</div>
<div class="t " style="left:98.30px;top:948.54px;font-size:9.4px;font-weight:700;color:#1d1d1b;transform:scaleX(0.8906);">na Pomoc Żywnościową</div>
<div class="t " style="left:271.00px;top:939.04px;font-size:9.4px;font-weight:700;color:#1d1d1b;transform:scaleX(0.9216);">Rzeczpospolita</div>
<div class="t " style="left:271.00px;top:948.54px;font-size:9.4px;font-weight:700;color:#1d1d1b;transform:scaleX(0.8368);">Polska</div>
<div class="t " style="left:353.80px;top:939.04px;font-size:9.4px;font-weight:700;color:#1d1d1b;transform:scaleX(0.9264);">Dofinansowane przez</div>
<div class="t " style="left:374.60px;top:948.54px;font-size:9.4px;font-weight:700;color:#1d1d1b;transform:scaleX(0.9256);">Unię Europejską</div>
<div class="t " style="left:600.60px;top:934.83px;font-size:25px;font-weight:700;color:#bd1f2d;transform:scaleX(0.9674);">caritas</div>
</div>
</body>
</html>
